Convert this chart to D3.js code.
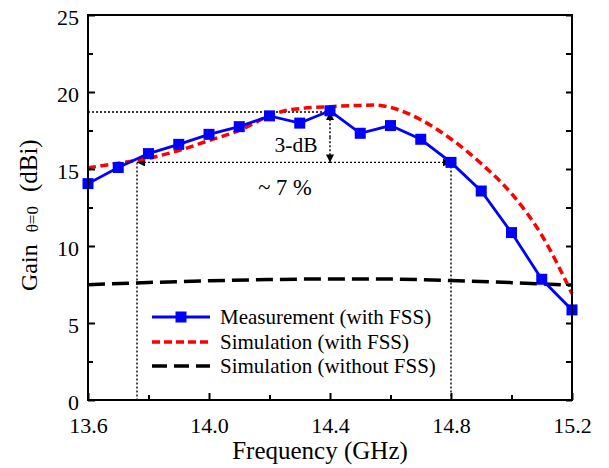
<!DOCTYPE html>
<html>
<head>
<meta charset="utf-8">
<script src="https://cdn.jsdelivr.net/npm/d3@7"></script>
<style>
  html, body { margin: 0; padding: 0; background: #fff; }
  svg { display: block; }
  text { font-family: "Liberation Serif", "Times New Roman", serif; fill: #000; }
</style>
</head>
<body>
<svg id="chart" width="609" height="468"></svg>
<script>
// ---------------- data ----------------
const measFreq = [13.6, 13.7, 13.8, 13.9, 14.0, 14.1, 14.2, 14.3, 14.4, 14.5, 14.6, 14.7, 14.8, 14.9, 15.0, 15.1, 15.2];
const measGain = [14.05, 15.1, 16.0, 16.6, 17.25, 17.75, 18.45, 17.98, 18.78, 17.32, 17.82, 16.93, 15.43, 13.57, 10.87, 7.84, 5.85];

const simFreq = [13.6, 13.7, 13.8, 13.9, 14.0, 14.1, 14.2, 14.25, 14.3, 14.4, 14.5, 14.55, 14.6, 14.7, 14.8, 14.9, 15.0, 15.1, 15.2];
const simGain = [15.08, 15.37, 15.7, 16.2, 16.85, 17.5, 18.45, 18.78, 18.92, 19.05, 19.13, 19.15, 19.0, 18.2, 16.95, 15.35, 13.4, 10.7, 6.9];

const noFssFreq = [13.6, 13.8, 14.0, 14.2, 14.4, 14.6, 14.8, 15.0, 15.2];
const noFssGain = [7.48, 7.63, 7.74, 7.82, 7.86, 7.85, 7.76, 7.62, 7.46];

const xTicks = [13.6, 14.0, 14.4, 14.8, 15.2];
const xMinorTicks = [13.8, 14.2, 14.6, 15.0];
const yTicks = [0, 5, 10, 15, 20, 25];
const yMinorTicks = [2.5, 7.5, 12.5, 17.5, 22.5];

const seriesNames = ["Measurement (with FSS)", "Simulation (with FSS)", "Simulation (without FSS)"];

// annotation values (3-dB bandwidth)
const peakLevel = 18.7;
const bandLevel = 15.43;
const bandLow = 13.762;
const bandHigh = 14.8;
const peakFreq = 14.4;

// ---------------- layout ----------------
const svg = d3.select("#chart");
const L = 88, R = 572, T = 15, B = 400;
const x = d3.scaleLinear().domain([13.6, 15.2]).range([L, R]);
const y = d3.scaleLinear().domain([0, 25]).range([B, T]);

const defs = svg.append("defs");
defs.append("marker")
  .attr("id", "arr")
  .attr("viewBox", "0 0 10 10")
  .attr("refX", 10).attr("refY", 5)
  .attr("markerWidth", 9).attr("markerHeight", 8)
  .attr("markerUnits", "userSpaceOnUse")
  .attr("orient", "auto")
  .append("path").attr("d", "M0,0 L10,5 L0,10 Z").attr("fill", "#000").attr("stroke", "none");

// ---------------- annotations (behind data) ----------------
const ann = svg.append("g").attr("stroke", "#000").attr("stroke-width", 1.4).attr("stroke-dasharray", "2,2").attr("fill", "none");
ann.append("line").attr("x1", x(13.6)).attr("x2", x(peakFreq)).attr("y1", y(peakLevel)).attr("y2", y(peakLevel));
ann.append("line").attr("x1", x(peakFreq)).attr("x2", x(bandLow)).attr("y1", y(bandLevel)).attr("y2", y(bandLevel)).attr("marker-end", "url(#arr)");
ann.append("line").attr("x1", x(peakFreq)).attr("x2", x(bandHigh)).attr("y1", y(bandLevel)).attr("y2", y(bandLevel)).attr("marker-end", "url(#arr)");
ann.append("line").attr("x1", x(bandLow)).attr("x2", x(bandLow)).attr("y1", y(bandLevel)).attr("y2", y(0));
ann.append("line").attr("x1", x(bandHigh)).attr("x2", x(bandHigh)).attr("y1", y(bandLevel)).attr("y2", y(0));
const midL = (peakLevel + bandLevel) / 2;
ann.append("line").attr("x1", x(peakFreq)).attr("x2", x(peakFreq)).attr("y1", y(midL)).attr("y2", y(peakLevel)).attr("marker-end", "url(#arr)");
ann.append("line").attr("x1", x(peakFreq)).attr("x2", x(peakFreq)).attr("y1", y(midL)).attr("y2", y(bandLevel)).attr("marker-end", "url(#arr)");

svg.append("text").attr("x", 296).attr("y", 152).attr("text-anchor", "middle")
  .attr("font-size", 21.5).text("3-dB");
svg.append("text").attr("x", 285).attr("y", 195).attr("text-anchor", "middle")
  .attr("font-size", 22.5).attr("xml:space", "preserve").text("~ 7 %");

// ---------------- series ----------------
const line = d3.line().x(d => x(d[0])).y(d => y(d[1])).curve(d3.curveMonotoneX);
const noFssData = noFssFreq.map((f, i) => [f, noFssGain[i]]);
const simData = simFreq.map((f, i) => [f, simGain[i]]);
const measData = measFreq.map((f, i) => [f, measGain[i]]);

svg.append("path").datum(noFssData).attr("d", line)
  .attr("fill", "none").attr("stroke", "#000").attr("stroke-width", 3.5).attr("stroke-dasharray", "17,7");
svg.append("path").datum(simData).attr("d", line)
  .attr("fill", "none").attr("stroke", "#ff0000").attr("stroke-width", 3.5).attr("stroke-dasharray", "8,4.5");
svg.append("path").datum(measData).attr("d", d3.line().x(d => x(d[0])).y(d => y(d[1])))
  .attr("fill", "none").attr("stroke", "#0000ff").attr("stroke-width", 2.8);
svg.append("g").selectAll("rect").data(measData).join("rect")
  .attr("x", d => x(d[0]) - 5.5).attr("y", d => y(d[1]) - 5.5)
  .attr("width", 11).attr("height", 11).attr("fill", "#0000ff");

// ---------------- axes ----------------
const ax = svg.append("g");
ax.append("rect").attr("x", L).attr("y", T).attr("width", R - L).attr("height", B - T)
  .attr("fill", "none").attr("stroke", "#000").attr("stroke-width", 2);

const xAxis = d3.axisBottom(x).tickValues(xTicks).tickSizeInner(-7).tickSizeOuter(0).tickFormat(d3.format(".1f"));
const gx = ax.append("g").attr("transform", `translate(0,${B})`).call(xAxis);
gx.select(".domain").remove();
gx.selectAll(".tick line").attr("stroke-width", 2);
gx.selectAll(".tick text").attr("font-size", 22).attr("y", 0).attr("dy", "33px");
const gxm = ax.append("g").attr("transform", `translate(0,${B})`)
  .call(d3.axisBottom(x).tickValues(xMinorTicks).tickSizeInner(-5).tickSizeOuter(0).tickFormat(""));
gxm.select(".domain").remove();
gxm.selectAll(".tick line").attr("stroke-width", 2);

const yAxis = d3.axisLeft(y).tickValues(yTicks).tickSizeInner(-7).tickSizeOuter(0).tickFormat(d3.format("d"));
const gy = ax.append("g").attr("transform", `translate(${L},0)`).call(yAxis);
gy.select(".domain").remove();
gy.selectAll(".tick line").attr("stroke-width", 2);
gy.selectAll(".tick text").attr("font-size", 22).attr("x", -9).attr("dy", "9px");
const gym = ax.append("g").attr("transform", `translate(${L},0)`)
  .call(d3.axisLeft(y).tickValues(yMinorTicks).tickSizeInner(-5).tickSizeOuter(0).tickFormat(""));
gym.select(".domain").remove();
gym.selectAll(".tick line").attr("stroke-width", 2);

const gyr = ax.append("g").attr("transform", `translate(${R},0)`)
  .call(d3.axisRight(y).tickValues(yTicks.concat(yMinorTicks)).tickSizeInner(-6).tickSizeOuter(0).tickFormat(""));
gyr.select(".domain").remove();
gyr.selectAll(".tick line").attr("stroke-width", 2);

// axis titles
svg.append("text").attr("x", 320).attr("y", 459).attr("text-anchor", "middle")
  .attr("font-size", 25).text("Frequency (GHz)");
const yl = svg.append("text").attr("transform", "translate(37,291) rotate(-90)")
  .attr("text-anchor", "start").attr("font-size", 24);
yl.append("tspan").text("Gain");
yl.append("tspan").attr("font-size", 17).attr("dx", 12).attr("dy", 1).text("\u03B8=0");
yl.append("tspan").attr("font-size", 25).attr("dx", 14).attr("dy", -1).text("(dBi)");

// ---------------- legend ----------------
const leg = svg.append("g");
const rowsY = [317, 342, 366];
const lx1 = 152, lx2 = 210;
leg.append("line").attr("x1", lx1).attr("x2", lx2).attr("y1", rowsY[0]).attr("y2", rowsY[0])
  .attr("stroke", "#0000ff").attr("stroke-width", 2.8);
leg.append("rect").attr("x", (lx1 + lx2) / 2 - 5.5).attr("y", rowsY[0] - 5.5).attr("width", 11).attr("height", 11).attr("fill", "#0000ff");
leg.append("line").attr("x1", lx1).attr("x2", lx2).attr("y1", rowsY[1]).attr("y2", rowsY[1])
  .attr("stroke", "#ff0000").attr("stroke-width", 3.5).attr("stroke-dasharray", "8,4");
leg.append("line").attr("x1", lx1).attr("x2", lx2).attr("y1", rowsY[2]).attr("y2", rowsY[2])
  .attr("stroke", "#000").attr("stroke-width", 3.5).attr("stroke-dasharray", "15,7");
seriesNames.forEach((n, i) => {
  leg.append("text").attr("x", 220).attr("y", rowsY[i] + 7).attr("font-size", 21).text(n);
});
</script>
</body>
</html>
